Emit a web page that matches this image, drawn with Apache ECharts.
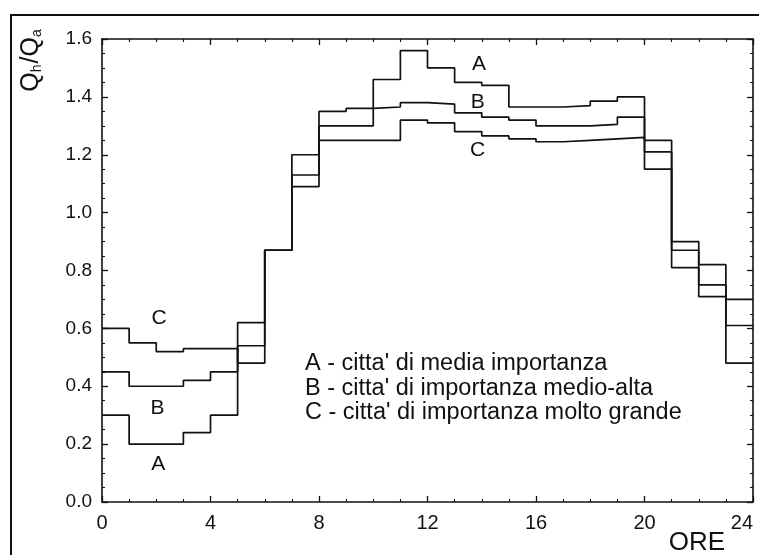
<!DOCTYPE html>
<html>
<head>
<meta charset="utf-8">
<script src="https://cdn.jsdelivr.net/npm/echarts@6/dist/echarts.min.js"></script>
<style>
  html, body { margin: 0; padding: 0; background: #fff; }
  #main { width: 759px; height: 555px; }
</style>
</head>
<body>
<div id="main"></div>
<script>
// ore del giorno (inizio di ogni fascia oraria)
var ore = [0,1,2,3,4,5,6,7,8,9,10,11,12,13,14,15,16,17,18,19,20,21,22,23];

// A - citta' di media importanza
var serieA = [0.30,0.20,0.20,0.24,0.30,0.62,0.87,1.20,1.30,1.30,1.46,1.56,
              1.50,1.45,1.44,1.365,1.365,1.37,1.385,1.40,1.25,0.81,0.71,0.48];
// B - citta' di importanza medio-alta
var serieB = [0.45,0.40,0.40,0.42,0.45,0.54,0.87,1.13,1.35,1.36,1.365,1.38,
              1.375,1.345,1.33,1.32,1.30,1.30,1.305,1.33,1.21,0.87,0.75,0.61];
// C - citta' di importanza molto grande
var serieC = [0.60,0.55,0.52,0.53,0.53,0.48,0.87,1.09,1.25,1.25,1.25,1.32,
              1.31,1.28,1.265,1.255,1.245,1.25,1.255,1.26,1.15,0.90,0.82,0.70];

var legenda = [
    "A - citta' di media importanza",
    "B - citta' di importanza medio-alta",
    "C - citta' di importanza molto grande"
];

var FONT = 'Liberation Sans, Arial, Helvetica, sans-serif';
var nero = '#111';

function toPoints(vals){
    var pts = [];
    for (var i = 0; i < ore.length; i++) {
        pts.push([ore[i], vals[i]]);
    }
    pts.push([24, vals[vals.length - 1]]);
    return pts;
}

function asseX(pos, labels){
    return {
        type: 'value', position: pos, min: 0, max: 24, interval: 4,
        axisLine: { show: true, onZero: false, lineStyle: { color: nero, width: 1.6 } },
        axisTick: { show: true, inside: true, length: 6, lineStyle: { color: nero, width: 1.3 } },
        minorTick: { show: true, splitNumber: 4, length: 3, lineStyle: { color: nero, width: 1.1 } },
        splitLine: { show: false },
        axisLabel: {
            show: labels, margin: 11, fontSize: 20, color: nero, fontFamily: FONT,
            alignMaxLabel: 'right'
        }
    };
}
function asseY(pos, labels){
    return {
        type: 'value', position: pos, min: 0, max: 1.6, interval: 0.2,
        axisLine: { show: true, onZero: false, lineStyle: { color: nero, width: 1.6 } },
        axisTick: { show: true, inside: true, length: 6, lineStyle: { color: nero, width: 1.3 } },
        minorTick: { show: true, splitNumber: 4, length: 3, lineStyle: { color: nero, width: 1.1 } },
        splitLine: { show: false },
        axisLabel: {
            show: labels, margin: 10, fontSize: 19, color: nero, fontFamily: FONT,
            formatter: function (v) { return v.toFixed(1); }
        }
    };
}

function serie(nome, vals){
    return {
        name: nome, type: 'line', step: 'end', symbol: 'none',
        xAxisIndex: 0, yAxisIndex: 0,
        lineStyle: { color: nero, width: 1.7 },
        data: toPoints(vals), silent: true, animation: false
    };
}

var chart = echarts.init(document.getElementById('main'));
option = {
    backgroundColor: '#fff',
    animation: false,
    grid: { left: 102, right: 6, top: 39, bottom: 53, containLabel: false, outerBoundsMode: 'none' },
    xAxis: [asseX('bottom', true), asseX('top', false)],
    yAxis: [asseY('left', true), asseY('right', false)],
    series: [serie('A', serieA), serie('B', serieB), serie('C', serieC)]
};
chart.setOption(option);

// etichette delle curve, posizionate in coordinate dei dati
var etichette = [
    ['C', 2.1, 0.634], ['B', 2.05, 0.324], ['A', 2.07, 0.131],
    ['A', 13.9, 1.513], ['B', 13.85, 1.383], ['C', 13.85, 1.217]
];
var grafici = [];
etichette.forEach(function (e) {
    var p = chart.convertToPixel({ gridIndex: 0 }, [e[1], e[2]]);
    grafici.push({
        type: 'text', x: p[0], y: p[1], silent: true,
        style: { text: e[0], fontSize: 21, fontFamily: FONT, fill: nero, align: 'center', verticalAlign: 'middle' }
    });
});
legenda.forEach(function (t, i) {
    grafici.push({
        type: 'text', x: 305, y: 364 + i * 24.5, silent: true,
        style: { text: t, fontSize: 23.5, fontFamily: FONT, fill: nero, align: 'left', verticalAlign: 'middle' }
    });
});
// titolo asse y: Q_h / Q_a
grafici.push({
    type: 'text', x: 31, y: 60, rotation: Math.PI / 2, silent: true,
    style: {
        text: '{q|Q}{s|h}{q|/Q}{s|a}', align: 'center', verticalAlign: 'middle',
        rich: {
            q: { fontSize: 25, fontFamily: FONT, fill: nero, lineHeight: 26, verticalAlign: 'bottom' },
            s: { fontSize: 14, fontFamily: FONT, fill: nero, lineHeight: 14, verticalAlign: 'bottom', padding: [9, 1, 0, 0] }
        }
    }
});
// titolo asse x
grafici.push({
    type: 'text', x: 697, y: 543, silent: true,
    style: { text: 'ORE', fontSize: 26, fontFamily: FONT, fill: nero, align: 'center', verticalAlign: 'middle' }
});
// cornice esterna
grafici.push({
    type: 'rect', silent: true,
    shape: { x: 11, y: 15, width: 800, height: 600 },
    style: { fill: null, stroke: nero, lineWidth: 2 }
});
chart.setOption({ graphic: grafici });
</script>
</body>
</html>
